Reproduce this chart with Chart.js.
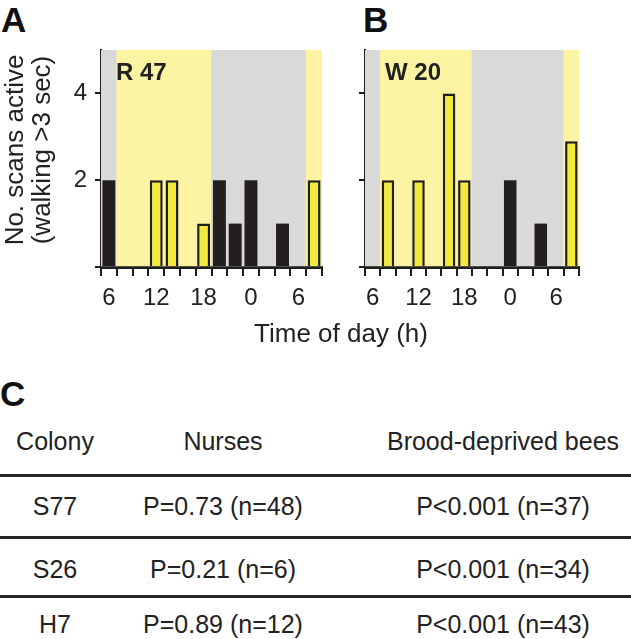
<!DOCTYPE html>
<html>
<head>
<meta charset="utf-8">
<script src="https://cdn.jsdelivr.net/npm/chart.js@4.4.1/dist/chart.umd.min.js"></script>
<style>
  html, body { margin: 0; padding: 0; background: #fff; }
  body { width: 631px; height: 639px; position: relative; overflow: hidden;
         font-family: "Liberation Sans", Arial, sans-serif; color: #222; }
  .abs { position: absolute; white-space: nowrap; }
  .panel { font-weight: bold; font-size: 35px; line-height: 35px; color: #111; }
  .tag { font-weight: bold; font-size: 24px; line-height: 24px; color: #222; }
  canvas { position: absolute; top: 0; }
  .cell { position: absolute; font-size: 25px; line-height: 25px; text-align: center; width: 300px; }
  .rule { position: absolute; left: 0; width: 631px; height: 3px; background: #262626; }
</style>
</head>
<body>
<div class="abs panel" style="left:1px;top:2px;">A</div>
<div class="abs panel" style="left:363px;top:2px;">B</div>
<div class="abs panel" style="left:0px;top:376px;">C</div>

<canvas id="chartA" width="335" height="320" style="left:0px;"></canvas>
<canvas id="chartB" width="250" height="320" style="left:340px;"></canvas>

<div class="abs tag" style="left:116px;top:60px;">R 47</div>
<div class="abs tag" style="left:385px;top:60px;">W 20</div>

<div class="abs" id="ytitle" style="left:-102.5px;top:123px;width:260px;height:54px;font-size:26px;line-height:27px;text-align:center;transform:rotate(-90deg);transform-origin:50% 50%;">No. scans active<br>(walking &gt;3 sec)</div>
<div class="abs" style="left:141px;top:320px;width:400px;font-size:26px;line-height:26px;text-align:center;">Time of day (h)</div>

<div id="table"></div>

<script>
// ---------------- data ----------------
const slotHours   = [6, 8, 10, 12, 14, 16, 18, 20, 22, 0, 2, 4, 6, 8];       // 2-h bins (centre hour)
const xTickLabels = ['6', '', '', '12', '', '', '18', '', '', '0', '', '', '6', ''];
const lightPhase  = [0, 1, 1, 1, 1, 1, 1, 0, 0, 0, 0, 0, 0, 1];              // 1 = lights on (yellow), 0 = dark (grey)
const scansR47    = [2, 0, 0, 2, 2, 0, 1, 2, 1, 2, 0, 1, 0, 2];
const scansW20    = [0, 2, 0, 2, 0, 4, 2, 0, 0, 2, 0, 1, 0, 2.9];
const yMax        = 5;
const yStep       = 2;

const colonies  = ['S77', 'S26', 'H7'];
const nursesP   = ['P=0.73 (n=48)', 'P=0.21 (n=6)', 'P=0.89 (n=12)'];
const broodP    = ['P<0.001 (n=37)', 'P<0.001 (n=34)', 'P<0.001 (n=43)'];
const headers   = ['Colony', 'Nurses', 'Brood-deprived bees'];

// ---------------- styles ----------------
const BG_LIGHT = '#fcf4a2';
const BG_DARK  = '#d9d9d9';
const BAR_LIGHT = '#f2e93c';
const BAR_DARK  = '#231f20';
const INK = '#1e1e1e';

Chart.defaults.font.family = '"Liberation Sans", Arial, sans-serif';
Chart.defaults.color = '#222';

function makeChart(id, values, showYLabels, yWidth, padRight) {
  const ctx = document.getElementById(id);
  return new Chart(ctx, {
    type: 'bar',
    data: {
      labels: slotHours.map(String),
      datasets: [
        {
          data: values,
          order: 1,
          grouped: false,
          categoryPercentage: 1,
          barPercentage: 0.82,
          backgroundColor: c => lightPhase[c.dataIndex] ? BAR_LIGHT : BAR_DARK,
          borderColor: INK,
          borderWidth: c => lightPhase[c.dataIndex] ? 2.5 : 0,
          borderSkipped: 'start'
        },
        {
          data: slotHours.map(() => yMax),
          order: 2,
          grouped: false,
          categoryPercentage: 1,
          barPercentage: 1,
          backgroundColor: lightPhase.map(p => p ? BG_LIGHT : BG_DARK),
          borderWidth: 0
        }
      ]
    },
    options: {
      responsive: false,
      animation: false,
      events: [],
      layout: { padding: { top: 50, right: padRight, left: 0, bottom: 0 } },
      plugins: { legend: { display: false }, tooltip: { enabled: false } },
      scales: {
        x: {
          offset: true,
          grid: { offset: true, drawOnChartArea: false, drawTicks: true, tickLength: 9, color: INK, lineWidth: 2 },
          border: { display: true, color: INK, width: 3 },
          ticks: {
            autoSkip: false, maxRotation: 0, minRotation: 0, padding: 8,
            font: { size: 24 }, color: '#222',
            callback: (v, i) => xTickLabels[i]
          },
          afterFit: s => { s.height = 53; }
        },
        y: {
          min: 0, max: yMax,
          grid: { drawOnChartArea: false, drawTicks: true, tickLength: 6, color: INK, lineWidth: 2 },
          border: { display: true, color: INK, width: 2 },
          ticks: {
            stepSize: yStep, includeBounds: false, padding: 8,
            font: { size: 24 }, color: '#222',
            callback: v => (showYLabels && v !== 0) ? String(v) : ''
          },
          afterFit: s => { s.width = yWidth; }
        }
      }
    }
  });
}

makeChart('chartA', scansR47, true, 101, 13);
makeChart('chartB', scansW20, false, 25, 11);

// ---------------- table C ----------------
const tbl = document.getElementById('table');
const colCenters = [55, 223, 503];
function cell(text, cx, top) {
  const d = document.createElement('div');
  d.className = 'cell';
  d.textContent = text;
  d.style.left = (cx - 150) + 'px';
  d.style.top = top + 'px';
  tbl.appendChild(d);
}
headers.forEach((h, i) => cell(h, colCenters[i], 429));
const rowTops = [494, 557, 612];
colonies.forEach((c, r) => {
  cell(c, colCenters[0], rowTops[r]);
  cell(nursesP[r], colCenters[1], rowTops[r]);
  cell(broodP[r], colCenters[2], rowTops[r]);
});
[473.5, 536, 595].forEach(y => {
  const d = document.createElement('div');
  d.className = 'rule';
  d.style.top = y + 'px';
  tbl.appendChild(d);
});
</script>
</body>
</html>
